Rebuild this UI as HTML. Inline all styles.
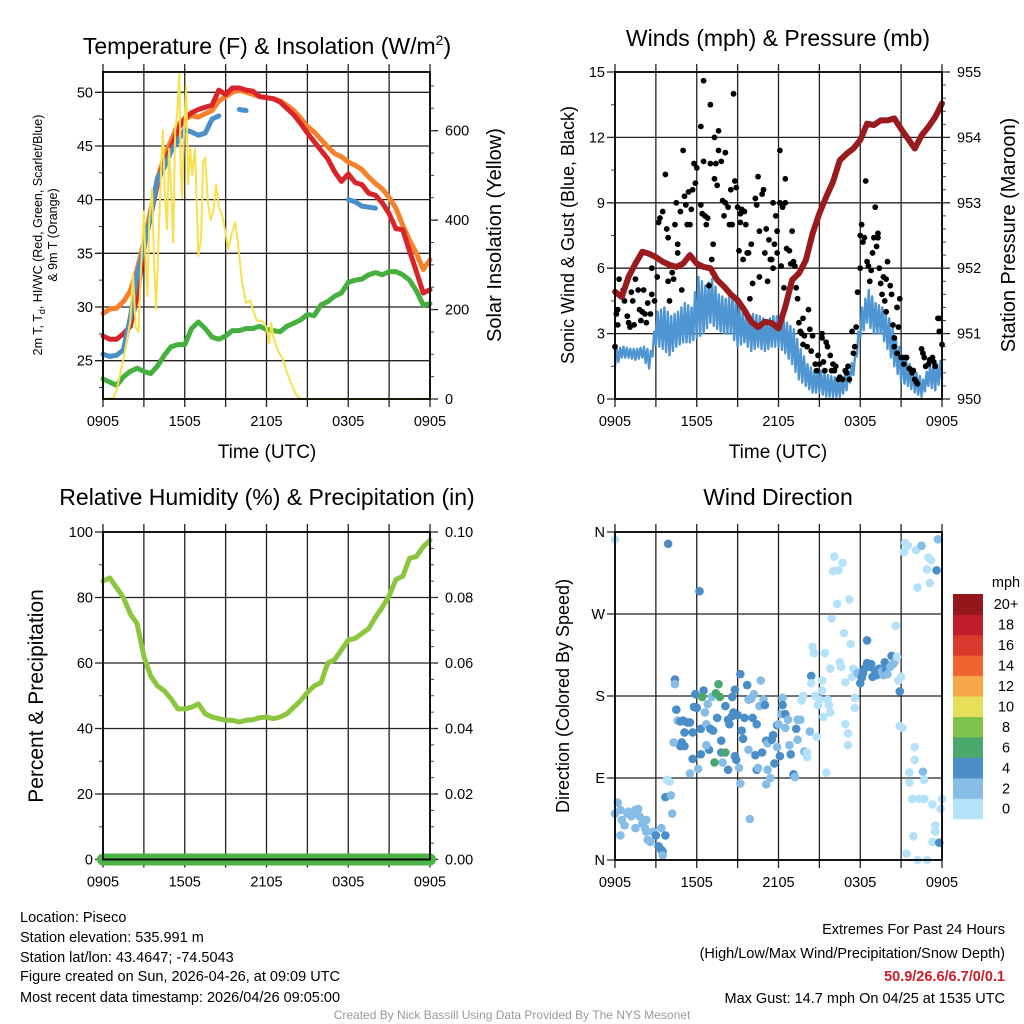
<!DOCTYPE html>
<html><head><meta charset="utf-8"><title>Piseco Meteogram</title>
<style>
html,body{margin:0;padding:0;background:#fff;}
svg{display:block;font-family:"Liberation Sans",Arial,sans-serif;}
</style></head>
<body>
<svg id="root" width="1024" height="1024" viewBox="0 0 1024 1024" xmlns="http://www.w3.org/2000/svg">
<rect width="1024" height="1024" fill="#fff"/>
<text x="267" y="54" font-size="23" text-anchor="middle">Temperature (F) &amp; Insolation (W/m<tspan font-size="14" dy="-9">2</tspan><tspan dy="9">)</tspan></text>
<text x="778" y="46" font-size="23" text-anchor="middle">Winds (mph) &amp; Pressure (mb)</text>
<text x="267" y="505" font-size="23" text-anchor="middle">Relative Humidity (%) &amp; Precipitation (in)</text>
<text x="778" y="505" font-size="23" text-anchor="middle">Wind Direction</text>

<text transform="translate(42,235) rotate(-90)" font-size="12.5" text-anchor="middle">2m T, T<tspan font-size="9" dy="3">d</tspan><tspan dy="-3">, HI/WC (Red, Green, Scarlet/Blue)</tspan></text>
<text transform="translate(57,235) rotate(-90)" font-size="12.5" text-anchor="middle">&amp; 9m T (Orange)</text>
<text transform="translate(501,235) rotate(-90)" font-size="20" text-anchor="middle">Solar Insolation (Yellow)</text>
<text transform="translate(574,235) rotate(-90)" font-size="18" text-anchor="middle">Sonic Wind &amp; Gust (Blue, Black)</text>
<text transform="translate(1015,235) rotate(-90)" font-size="20" text-anchor="middle">Station Pressure (Maroon)</text>
<text transform="translate(43,696) rotate(-90)" font-size="21" text-anchor="middle">Percent &amp; Precipitation</text>
<text transform="translate(569,696) rotate(-90)" font-size="18" text-anchor="middle">Direction (Colored By Speed)</text>
<text x="267" y="458" font-size="19" text-anchor="middle">Time (UTC)</text>
<text x="778" y="458" font-size="19" text-anchor="middle">Time (UTC)</text>

<g font-size="14.5">
<text x="20" y="922">Location: Piseco</text>
<text x="20" y="942">Station elevation: 535.991 m</text>
<text x="20" y="962">Station lat/lon: 43.4647; -74.5043</text>
<text x="20" y="981">Figure created on Sun, 2026-04-26, at 09:09 UTC</text>
<text x="20" y="1002">Most recent data timestamp: 2026/04/26 09:05:00</text>
</g>
<g font-size="14.5" text-anchor="end">
<text x="1005" y="934">Extremes For Past 24 Hours</text>
<text x="1005" y="958">(High/Low/Max Wind/Precipitation/Snow Depth)</text>
<text x="1005" y="981" fill="#c8202a" font-weight="bold">50.9/26.6/6.7/0/0.1</text>
<text x="1005" y="1003">Max Gust: 14.7 mph On 04/25 at 1535 UTC</text>
</g>
<text x="512" y="1019" font-size="12" fill="#999" text-anchor="middle">Created By Nick Bassill Using Data Provided By The NYS Mesonet</text>
</svg>
<script>
// ---------- data (t = hours since 0905 UTC) ----------
const halfHours = [0,0.5,1,1.5,2,2.5,3,3.5,4,4.5,5,5.5,6,6.5,7,7.5,8,8.5,9,9.5,10,10.5,11,11.5,12,12.5,13,13.5,14,14.5,15,15.5,16,16.5,17,17.5,18,18.5,19,19.5,20,20.5,21,21.5,22,22.5,23,23.5,24];
const timeLabels = ["0905","1505","2105","0305","0905"];
const tempRed = [27.3,27.0,27.0,27.5,28.2,31,35.5,38.5,41.5,43.5,44.8,46.5,47.6,48.1,48.4,48.6,48.8,50.2,49.8,50.4,50.4,50.2,50.1,49.6,49.5,49.4,49.1,48.5,47.9,47.1,46.2,45.4,44.6,43.8,42.6,41.7,42.4,41.6,41.4,40.6,40.4,39.7,38.7,37.3,37.2,35.2,33.3,31.3,31.6];
const temp9m = [29.4,29.8,29.9,30.5,31.5,33.5,36,39,42,44,45.5,47,47.5,47.8,47.7,48,48.3,49.2,49.6,50,50.2,50,49.8,49.6,49.5,49.4,49.2,48.8,48.3,47.6,46.8,46.3,45.6,44.9,44.3,44.0,43.5,43.2,42.8,42.1,41.5,41.0,40.2,39.2,37.6,36.2,35.0,33.5,34.4];
const heatWind = [25.6,25.4,25.5,26,29,33,35.5,38.5,42,43,44.5,45.5,46.5,46.3,46.0,46.2,47.5,47.8,null,null,48.4,48.3,null,null,48.3,null,null,null,null,null,null,null,null,null,null,null,40,39.8,39.4,39.3,39.2,null,null,null,null,null,null,null,null];
const dewPoint = [23.3,23,22.7,23.5,24,24.3,24,23.8,24.5,25.5,26.3,26.5,26.5,28,28.6,28,27.2,27,27.3,27.8,27.8,28,28,28.2,27.9,27.8,27.7,28.2,28.5,28.8,29.3,29.2,30.2,30.5,31,31.3,32.3,32.5,32.6,33,33.2,33,33.3,33.3,33,32.5,31.5,30.2,30.3];
const solarT = [0,0.75,1.0,1.5,1.75,2.0,2.2,2.4,2.6,2.8,3.0,3.1,3.25,3.4,3.6,3.75,3.9,4.1,4.3,4.4,4.55,4.7,4.85,5.0,5.15,5.3,5.45,5.6,5.7,5.8,5.95,6.1,6.25,6.4,6.55,6.75,6.9,7.0,7.2,7.35,7.5,7.7,7.9,8.1,8.3,8.5,8.75,9.0,9.2,9.45,9.7,9.9,10.2,10.5,10.8,11.0,11.3,11.6,11.8,12.0,12.2,12.35,12.5,12.8,13.2,13.5,13.8,14.2,14.5,24];
const solarV = [0,2,20,90,130,175,280,160,150,300,420,330,230,400,470,300,200,380,540,600,450,380,560,470,350,600,640,730,520,450,600,700,480,560,500,560,420,320,360,530,540,440,400,420,480,430,410,370,335,370,395,350,260,215,220,200,175,175,170,160,125,170,140,110,90,60,35,8,0,0];
const pressure = [951.64,951.56,951.87,952.07,952.25,952.22,952.17,952.1,952.05,952.02,952.07,952.2,952.07,952.02,952,951.82,951.72,951.6,951.51,951.36,951.18,951.1,951.18,951.16,951.08,951.41,951.82,951.92,952.12,952.53,952.84,953.09,953.32,953.65,953.75,953.83,953.96,954.21,954.19,954.26,954.26,954.29,954.13,953.98,953.83,954.03,954.16,954.31,954.52];
const windMax = [2.3,2.4,2.3,2.3,2.4,2.2,4.0,4.2,3.8,4.0,4.4,4.2,5.6,5.2,5.5,4.8,4.6,4.7,4.3,3.8,3.9,3.8,3.6,3.8,3.8,3.5,3.2,2.3,1.6,1.3,1.3,1.1,1.0,0.9,1.3,2.0,4.2,5.0,4.4,4.2,3.7,2.8,2.0,1.6,1.2,0.9,1.6,1.6,1.9];
const windMin = [1.5,1.9,1.9,1.8,1.9,1.4,2.5,2.3,2.0,2.4,2.6,2.6,2.8,3.0,3.5,3.2,3.0,3.0,2.4,2.6,2.2,2.4,2.2,2.4,2.4,2.1,1.6,0.9,0.6,0.3,0.3,0.1,0.1,0.1,0.4,1.1,2.8,3.5,3.0,3.0,2.3,1.5,0.8,0.6,0.3,0.1,0.6,0.4,0.9];
const gustT = [0,0.1,0.2,0.2,0.3,0.5,0.6,0.7,0.9,1,1.1,1.2,1.3,1.4,1.5,1.7,1.8,1.9,2.0,2.1,2.2,2.3,2.4,2.6,2.7,2.7,2.9,3.1,3.2,3.3,3.5,3.7,3.8,3.9,3.9,4.0,4.2,4.3,4.4,4.5,4.6,4.6,4.8,4.9,5.0,5.1,5.2,5.3,5.4,5.5,5.6,5.7,5.8,5.9,6.0,6.3,6.3,6.4,6.5,6.5,6.6,6.7,6.8,6.9,7.0,7.0,7.1,7.2,7.3,7.3,7.4,7.5,7.6,7.6,7.8,7.9,8.0,8.1,8.1,8.3,8.4,8.5,8.6,8.7,8.8,8.9,9.0,9.1,9.2,9.2,9.3,9.4,9.5,9.6,9.7,9.8,9.9,10.0,10.1,10.3,10.4,10.5,10.6,10.6,10.8,10.9,11.0,11.1,11.2,11.3,11.4,11.5,11.6,11.6,11.7,11.8,11.9,11.9,12.1,12.1,12.2,12.3,12.4,12.5,12.5,12.6,12.8,12.9,13.0,13.1,13.2,13.3,13.4,13.5,13.6,13.7,13.8,13.8,13.9,14.1,14.2,14.3,14.4,14.5,14.7,14.8,14.9,15.0,15.2,15.2,15.3,15.4,15.5,15.6,15.8,15.9,16.0,16.1,16.2,16.4,16.5,16.7,16.9,17.0,17.1,17.2,17.4,17.5,17.6,17.7,17.8,18.0,18.0,18.1,18.2,18.3,18.4,18.5,18.6,18.7,18.8,18.9,19.0,19.1,19.2,19.3,19.3,19.4,19.5,19.6,19.7,19.8,19.9,19.9,20.0,20.2,20.3,20.4,20.5,20.5,20.7,20.7,20.8,20.9,21.0,21.2,21.3,21.4,21.6,21.8,21.9,22.0,22.1,22.2,22.5,22.6,22.7,22.8,23.0,23.1,23.3,23.4,23.5,23.7,23.8,23.8,24.0];
const gustV = [2.4,3.9,4.1,3.4,5.5,4.8,5.0,4.5,3.8,3.5,3.3,4.9,4.5,3.4,5.5,5.0,4.1,3.6,4.0,5.0,3.9,3.5,4.4,3.9,4.8,6.0,4.5,5.6,8.1,8.3,8.6,10.3,7.8,5.4,7.4,4.5,5.8,5.5,8.0,9.0,7.1,6.7,8.6,5.0,11.4,9.3,8.9,8.0,9.5,8.0,8.7,9.6,10.8,9.9,10.6,12.5,8.9,8.5,14.6,10.9,8.4,8.0,8.3,5.2,10.8,13.5,6.4,7.1,12.0,10.1,10.8,9.8,11.4,12.3,10.9,9.1,8.4,11.3,9.0,8.8,8.0,9.6,8.0,14.0,10.0,9.7,8.8,6.8,8.1,8.5,8.7,6.4,8.6,8.0,6.7,6.7,4.6,7.1,5.3,9.2,8.9,10.2,5.6,7.7,9.4,9.6,6.7,7.8,5.4,7.3,6.4,6.4,6.0,9.0,7.1,8.4,6.7,7.7,11.4,9.0,6.1,8.8,5.1,9.0,10.1,6.9,6.8,6.2,7.7,6.3,6.1,5.1,4.6,3.5,3.1,3.0,2.5,3.7,2.9,2.4,4.1,3.2,2.2,2.9,1.6,1.3,2.0,1.6,2.8,3.0,1.7,1.3,2.6,2.4,2.0,1.3,1.6,1.3,1.5,0.9,1.0,0.9,1.3,1.2,1.5,0.9,3.1,2.1,2.4,3.3,4.9,6.0,7.5,8.0,7.2,7.4,10.0,6.3,6.1,5.4,5.9,6.7,7.4,8.8,7.0,7.6,7.4,6.0,5.3,4.8,5.6,4.5,4.0,5.5,6.3,5.2,4.8,3.4,2.8,2.4,2.1,4.2,3.3,4.6,1.9,1.6,1.9,1.9,1.4,1.2,1.3,0.9,0.8,0.7,2.3,2.1,1.9,1.5,1.6,1.8,1.9,1.7,1.5,3.7,3.1,3.7,2.5];
const rhHalf = [85,86,83,80,75,72,62,56,53,51.5,49,46,46,46.5,47.5,44.5,43.5,43,42.5,42.5,42,42.5,42.7,43.3,43.5,43,43.5,44.5,46.5,48.5,51,53,54,60,61,64,67,67.5,69,70.5,74,77,80.5,85.5,86.5,92,92.5,95.5,97.5];
const precip = [0,0];
const precipT = [0,24];
const dirT = [0,0.2,0.4,0.5,0.7,0.4,0.9,1.0,1.2,1.5,1.7,1.8,2.0,2.2,2.3,2.4,2.6,2.8,3.0,3.2,3.4,3.5,3.5,3.7,3.4,1.5,2.3,2.6,0,3.9,3.7,4.1,4.2,3.8,4.0,4.4,4.4,4.5,4.6,4.8,5.0,5.3,5.1,4.9,4.8,5.1,4.3,5.5,5.5,5.7,5.7,6.1,6.0,5.9,5.8,6.2,6.3,6.3,6.5,6.4,6.6,6.7,6.8,6.9,6.7,7.0,7.1,7.2,7.3,7.4,7.5,7.6,7.7,7.8,7.8,7.9,8.1,8.1,8.3,8.3,8.4,8.6,8.6,8.7,8.8,8.8,8.9,9.0,9.1,9.2,9.2,9.3,9.4,9.5,9.7,9.8,9.8,9.9,10.0,10.1,10.2,10.3,10.4,10.4,10.5,10.6,10.7,10.8,10.9,11.0,11.1,11.1,11.2,11.2,11.4,11.5,11.6,11.7,11.9,11.9,12.0,12.1,12.2,12.3,12.3,12.5,12.5,12.7,12.8,12.9,13.1,13.2,13.3,13.4,13.4,13.6,13.7,13.8,13.9,14.1,14.1,14.3,14.4,14.4,14.5,14.6,14.7,14.8,14.9,15.0,15.2,15.2,15.3,15.4,15.5,15.6,15.7,15.8,15.8,15.9,16.0,16.1,16.3,16.4,16.5,16.6,16.7,16.8,16.9,16.9,17.1,17.1,17.2,17.3,17.4,17.5,17.6,17.6,17.7,17.8,18.0,18.1,18.2,18.3,18.5,18.5,18.7,18.8,18.9,19.1,19.2,19.3,19.4,19.6,19.7,19.8,19.9,20.0,20.2,20.3,20.4,20.5,20.6,20.7,20.8,20.9,20.9,21.0,21.1,21.2,21.3,21.4,21.5,21.6,21.6,21.8,21.9,22.0,22.0,22.1,22.2,22.2,22.3,22.5,22.6,22.7,22.7,22.9,22.9,23.0,23.1,23.2,23.3,23.3,23.5,23.5,23.6,23.7,23.8,23.9,24.0];
const dirDeg = [51,63,55,44,38,27,51,53,48,55,56,48,40,35,31,22,20,31,27,15,11,9,5,27,35,35,44,20,352,347,69,71,51,88,86,198,193,165,153,152,153,151,140,129,125,125,129,151,95,140,111,100,167,182,168,295,144,116,186,179,162,149,171,121,126,144,179,142,107,183,156,193,179,131,118,107,118,169,99,154,149,158,179,162,114,187,110,159,101,204,84,142,133,156,192,176,121,45,177,156,182,115,99,149,101,169,197,118,176,170,83,131,99,128,90,132,137,106,148,124,149,114,160,178,170,145,160,154,126,116,94,91,144,132,154,154,175,180,119,118,113,141,202,194,234,227,180,135,170,176,186,197,157,227,96,176,170,162,210,265,317,333,281,318,217,212,326,249,195,149,139,126,286,237,201,210,167,178,207,205,194,200,205,210,216,241,212,215,201,207,203,209,210,207,203,217,209,204,212,224,215,217,257,223,197,147,185,201,145,338,348,7,345,96,85,67,26,110,124,340,0,299,67,345,97,88,67,0,319,332,304,329,61,20,31,38,318,352,19,56,67];
const dirSpeed = [3,3,3,3,3,3,3,3,3,3,3,3,3,3,3,3,3,3,5,5,5,5,3,5,3,3,3,3,1,5,5,3,3,1,1,5,3,5,3,5,5,5,5,5,5,5,3,5,3,5,5,3,5,5,5,5,5,5,5,7,3,3,3,5,3,5,3,5,7,7,5,7,7,5,5,3,7,5,5,5,5,5,5,5,5,5,5,5,3,5,3,5,5,5,5,3,3,3,3,5,3,5,5,5,3,3,3,5,3,5,3,5,3,3,3,5,5,5,5,3,3,5,3,3,5,3,5,3,3,5,5,3,5,3,3,3,1,1,3,1,1,3,5,1,1,1,1,1,1,1,1,1,1,1,1,1,1,1,1,1,1,1,1,1,1,1,1,1,1,1,1,1,1,1,1,1,1,1,1,3,5,5,5,5,5,5,5,5,5,5,5,5,5,3,3,5,5,3,3,5,3,3,1,1,1,1,5,1,1,1,1,1,1,1,1,1,1,1,1,1,1,1,1,3,3,1,1,1,1,1,1,1,1,1,1,1,5,3,5,1,1];
const speedBins = ["0","2","4","6","8","10","12","14","16","18","20+"];
const speedColors = ["#b5e2f8","#85bde6","#4a8dc7","#4aa86d","#7cc24b","#e6df58","#f6a84a","#ef6530","#da392d","#be1e2a","#92161a"];

// ---------- helpers ----------
const NS = "http://www.w3.org/2000/svg";
const root = document.getElementById("root");
function mk(tag, attrs, name, parent) {
  const el = document.createElementNS(NS, tag);
  for (const k in attrs) el.setAttribute(k, attrs[k]);
  
  
  (parent || root).appendChild(el);
  return el;
}
function P(L,R,T,B,lo,hi){ return {L,R,T,B,x:t=>L+t/24*(R-L), y:v=>B-(v-lo)/(hi-lo)*(B-T)}; }
const p1 = P(103,430,72,399,21.43,51.89);
const p1r = P(103,430,72,399,0,731.2);
const p2 = P(615,942,72,399,0,15);
const p2r = P(615,942,72,399,950,955);
const p3 = P(103,430,532,859.5,0,100);
const p3r = P(103,430,532,859.5,0,0.1);
const p4 = P(615,942,532,860,0,360);

function grid(p, name) {
  const g = mk('g', {}, name + '-grid');
  for (let h = 0; h <= 24; h += 3) {
    const X = p.x(h);
    mk('line', {x1:X, x2:X, y1:p.T-8, y2:p.B+8, stroke:'#222', 'stroke-width':1.3}, name + '-vertical-gridline', g);
  }
  timeLabels.forEach((lab, i) => {
    const tl = mk('text', {x:p.x(i*6), y:p.B+27, 'font-size':14.5, 'text-anchor':'middle'}, name + '-x-tick-label', g);
    tl.textContent = lab;
  });
  return g;
}
function hgrid(p, vals, labels, name) {
  vals.forEach((v, i) => {
    const Y = p.y(v);
    mk('line', {x1:p.L-8, x2:p.R, y1:Y, y2:Y, stroke:'#222', 'stroke-width':1.3}, name + '-horizontal-gridline');
    const tl = mk('text', {x:p.L-10, y:Y+5, 'font-size':14.5, 'text-anchor':'end'}, name + '-y-tick-label');
    tl.textContent = labels[i];
  });
}
function rightAxis(p, vals, labels, minorStep, lo, hi, name) {
  vals.forEach((v, i) => {
    const Y = p.y(v);
    mk('line', {x1:p.R, x2:p.R+8, y1:Y, y2:Y, stroke:'#222', 'stroke-width':1.3}, name + '-right-major-tick');
    const tl = mk('text', {x:p.R+15, y:Y+5, 'font-size':14.5}, name + '-right-tick-label');
    tl.textContent = labels[i];
  });
  for (let v = lo; v <= hi + 1e-9; v += minorStep) {
    const Y = p.y(v);
    mk('line', {x1:p.R, x2:p.R+4, y1:Y, y2:Y, stroke:'#444', 'stroke-width':1}, name + '-right-minor-tick');
  }
}
function leftMinor(p, lo, hi, step, name) {
  for (let v = lo; v <= hi + 1e-9; v += step) {
    const Y = p.y(v);
    mk('line', {x1:p.L-4, x2:p.L, y1:Y, y2:Y, stroke:'#444', 'stroke-width':1}, name + '-left-minor-tick');
  }
}
function frame(p, name) {
  mk('rect', {x:p.L, y:p.T, width:p.R-p.L, height:p.B-p.T, fill:'none', stroke:'#000', 'stroke-width':1.8}, name + '-frame');
}
function linePath(tArr, vArr, xf, yf) {
  let d = '', pen = false;
  for (let i = 0; i < tArr.length; i++) {
    if (vArr[i] === null || vArr[i] === undefined) { pen = false; continue; }
    d += (pen ? 'L' : 'M') + xf(tArr[i]).toFixed(1) + ',' + yf(vArr[i]).toFixed(1);
    pen = true;
  }
  return d;
}

// ---------- Panel 1 ----------
grid(p1, 'temperature');
hgrid(p1, [25,30,35,40,45,50], ['25','30','35','40','45','50'], 'temperature');
leftMinor(p1, 22.5, 50, 5, 'temperature');
rightAxis(p1r, [0,200,400,600], ['0','200','400','600'], 50, 0, 700, 'solar');
mk('path', {d:linePath(halfHours, dewPoint, p1.x, p1.y), fill:'none', stroke:'#45b03f', 'stroke-width':5, 'stroke-linejoin':'round', 'stroke-linecap':'round'}, 'dewpoint-line');
mk('path', {d:linePath(halfHours, temp9m, p1.x, p1.y), fill:'none', stroke:'#f5822a', 'stroke-width':5, 'stroke-linejoin':'round', 'stroke-linecap':'round'}, 'temperature-9m-line');
mk('path', {d:linePath(halfHours, tempRed, p1.x, p1.y), fill:'none', stroke:'#d7252b', 'stroke-width':5, 'stroke-linejoin':'round', 'stroke-linecap':'round'}, 'temperature-2m-line');
mk('path', {d:linePath(halfHours, heatWind, p1.x, p1.y), fill:'none', stroke:'#4a90cc', 'stroke-width':5, 'stroke-linejoin':'round', 'stroke-linecap':'round'}, 'heat-index-wind-chill-line');
mk('path', {d:linePath(solarT, solarV, p1r.x, p1r.y), fill:'none', stroke:'#f8e04d', 'stroke-width':2, 'stroke-linejoin':'round'}, 'solar-insolation-line');
frame(p1, 'temperature');

// ---------- Panel 2 ----------
grid(p2, 'wind');
hgrid(p2, [0,3,6,9,12,15], ['0','3','6','9','12','15'], 'wind');
leftMinor(p2, 1.5, 13.5, 3, 'wind');
rightAxis(p2r, [950,951,952,953,954,955], ['950','951','952','953','954','955'], 0.2, 950, 955, 'pressure');
{
  let d = '';
  for (let i = 0; i < halfHours.length; i++) {
    d += (i ? 'L' : 'M') + p2.x(halfHours[i]).toFixed(1) + ',' + p2.y(windMin[i]).toFixed(1);
    if (i < halfHours.length - 1) {
      const mMin = (windMin[i] + windMin[i+1]) / 2, mMax = (windMax[i] + windMax[i+1]) / 2;
      d += 'L' + p2.x(halfHours[i] + 0.125).toFixed(1) + ',' + p2.y(windMax[i]).toFixed(1);
      d += 'L' + p2.x(halfHours[i] + 0.25).toFixed(1) + ',' + p2.y(mMin).toFixed(1);
      d += 'L' + p2.x(halfHours[i] + 0.375).toFixed(1) + ',' + p2.y(mMax).toFixed(1);
    }
  }
  mk('path', {d:d, fill:'none', stroke:'#4f95d2', 'stroke-width':2.4, 'stroke-linejoin':'round'}, 'sonic-wind-line');
}
{
  const g = mk('g', {}, 'gust-points');
  for (let i = 0; i < gustT.length; i++) {
    mk('circle', {cx:p2.x(gustT[i]), cy:p2.y(gustV[i]), r:2.9, fill:'#000'}, 'gust-point', g);
  }
}
mk('path', {d:linePath(halfHours, pressure, p2r.x, p2r.y), fill:'none', stroke:'#9a1b1e', 'stroke-width':6, 'stroke-linejoin':'round', 'stroke-linecap':'round'}, 'pressure-line');
frame(p2, 'wind');

// ---------- Panel 3 ----------
grid(p3, 'humidity');
hgrid(p3, [0,20,40,60,80,100], ['0','20','40','60','80','100'], 'humidity');
leftMinor(p3, 10, 90, 20, 'humidity');
rightAxis(p3r, [0,0.02,0.04,0.06,0.08,0.1], ['0.00','0.02','0.04','0.06','0.08','0.10'], 0.005, 0, 0.1, 'precip');
mk('path', {d:linePath(halfHours, rhHalf, p3.x, p3.y), fill:'none', stroke:'#8cc63f', 'stroke-width':5, 'stroke-linejoin':'round', 'stroke-linecap':'round'}, 'relative-humidity-line');
mk('path', {d:linePath(precipT, precip, p3r.x, p3r.y), fill:'none', stroke:'#4cb447', 'stroke-width':12, 'stroke-linecap':'round'}, 'precipitation-line');
frame(p3, 'humidity');
mk('line', {x1:p3.L, x2:p3.R, y1:p3.B, y2:p3.B, stroke:'#000', 'stroke-width':1.5}, 'humidity-zero-line');

// ---------- Panel 4 ----------
grid(p4, 'direction');
hgrid(p4, [0,90,180,270,360], ['N','E','S','W','N'], 'direction');
{
  const g = mk('g', {}, 'direction-points');
  for (let i = 0; i < dirT.length; i++) {
    const sp = (dirSpeed[i] === undefined) ? 1 : dirSpeed[i];
    const bin = Math.min(10, Math.floor(sp / 2));
    mk('circle', {cx:p4.x(dirT[i]), cy:p4.y(dirDeg[i]), r:4.3, fill:speedColors[bin]}, 'direction-point', g);
  }
}
frame(p4, 'direction');
{
  const g = mk('g', {}, 'speed-colorbar');
  const cbTop = 594, cbH = 20.45;
  speedBins.forEach((lab, i) => {
    const y = cbTop + (10 - i) * cbH;
    mk('rect', {x:953, y:y, width:30, height:cbH + 0.3, fill:speedColors[i]}, 'colorbar-box', g);
    const tl = mk('text', {x:1006, y:y + cbH/2 + 5, 'font-size':14.5, 'text-anchor':'middle'}, 'colorbar-label', g);
    tl.textContent = lab;
  });
  const u = mk('text', {x:1006, y:587, 'font-size':14.5, 'text-anchor':'middle'}, 'colorbar-unit', g);
  u.textContent = 'mph';
}
</script>
</body></html>
